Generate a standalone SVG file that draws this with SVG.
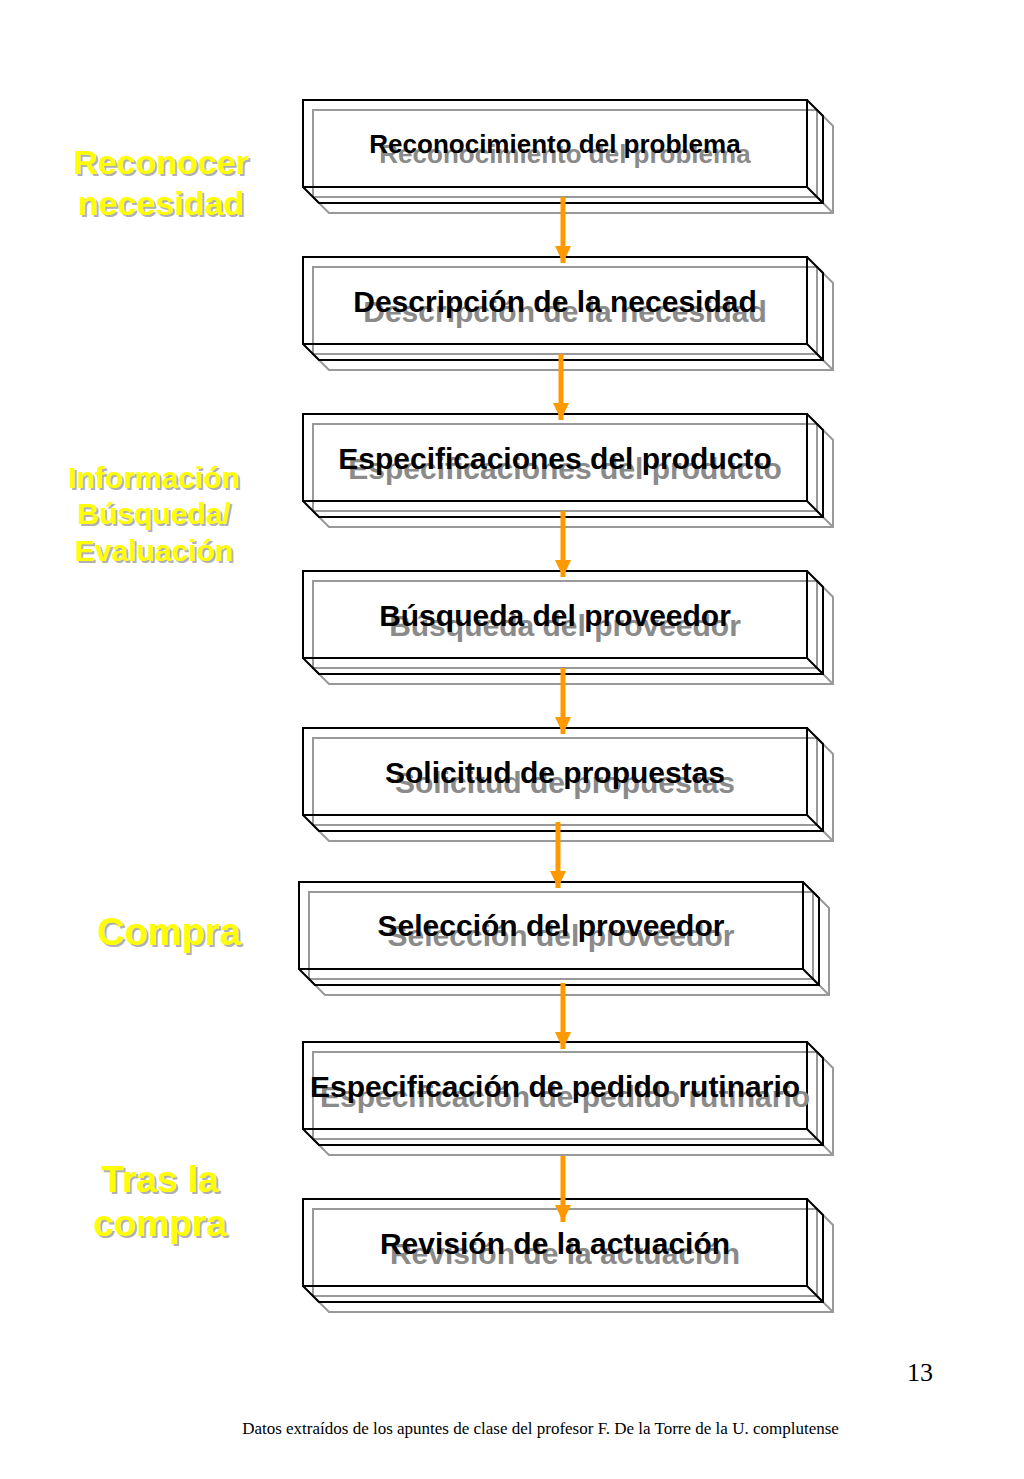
<svg xmlns="http://www.w3.org/2000/svg" width="1024" height="1479" viewBox="0 0 1024 1479">
<defs>
<style>
.blk{fill:none;stroke:#000;stroke-width:2;stroke-linejoin:miter}
.gry{fill:none;stroke:#999;stroke-width:2}
.t{font-family:"Liberation Sans",Arial,sans-serif;font-weight:bold;font-size:30px;text-anchor:middle}
.t.s26{font-size:26px}
.tb{fill:#000}
.ts{fill:#8a8a8a}
.lab{font-family:"Liberation Sans",Arial,sans-serif;font-weight:bold;text-anchor:middle}
.ly{fill:#FFFF00}
.lg{fill:#b0b0b0}
.arr{stroke:#FF9900;stroke-width:5;fill:none}
</style>
<g id="box">
<path class="gry" d="M10,10 h504 v87 h-504 z M514,10 l16,16 v87 h-504 l-16,-16 M514,97 l16,16"/>
<path class="blk" d="M0,0 h504 v87 h-504 z M504,0 l16,16 v87 h-504 l-16,-16 M504,87 l16,16"/>
</g>
<marker id="ah" markerWidth="17" markerHeight="16" refX="17" refY="8" orient="auto" markerUnits="userSpaceOnUse">
<path d="M0,0 L17,8 L0,16 z" fill="#FF9900"/>
</marker>
</defs>
<rect width="1024" height="1479" fill="#fff"/>

<g id="labels">
<g class="lab" font-size="34">
<text class="lg" x="163" y="176">Reconocer</text>
<text class="ly" x="161" y="174">Reconocer</text>
<text class="lg" x="163" y="217">necesidad</text>
<text class="ly" x="161" y="215">necesidad</text>
</g>
<g class="lab" font-size="30">
<text class="lg" x="156" y="490">Información</text>
<text class="ly" x="154" y="488">Información</text>
<text class="lg" x="156" y="526">Búsqueda/</text>
<text class="ly" x="154" y="524">Búsqueda/</text>
<text class="lg" x="156" y="563">Evaluación</text>
<text class="ly" x="154" y="561">Evaluación</text>
</g>
<g class="lab" font-size="38">
<text class="lg" x="171" y="947">Compra</text>
<text class="ly" x="169" y="945">Compra</text>
</g>
<g class="lab" font-size="37">
<text class="lg" x="162" y="1194">Tras la</text>
<text class="ly" x="160" y="1192">Tras la</text>
<text class="lg" x="162" y="1238">compra</text>
<text class="ly" x="160" y="1236">compra</text>
</g>
</g>

<g id="n1"><use href="#box" x="303" y="100"/>
<text class="t s26 ts" x="565" y="163">Reconocimiento del problema</text>
<text class="t s26 tb" x="555" y="153">Reconocimiento del problema</text></g>
<g id="n2"><use href="#box" x="303" y="257"/>
<text class="t ts" x="565" y="322">Descripción de la necesidad</text>
<text class="t tb" x="555" y="312">Descripción de la necesidad</text></g>
<g id="n3"><use href="#box" x="303" y="414"/>
<text class="t ts" x="565" y="479">Especificaciones del producto</text>
<text class="t tb" x="555" y="469">Especificaciones del producto</text></g>
<g id="n4"><use href="#box" x="303" y="571"/>
<text class="t ts" x="565" y="636">Búsqueda del proveedor</text>
<text class="t tb" x="555" y="626">Búsqueda del proveedor</text></g>
<g id="n5"><use href="#box" x="303" y="728"/>
<text class="t ts" x="565" y="793">Solicitud de propuestas</text>
<text class="t tb" x="555" y="783">Solicitud de propuestas</text></g>
<g id="n6"><use href="#box" x="299" y="882"/>
<text class="t ts" x="561" y="946">Selección del proveedor</text>
<text class="t tb" x="551" y="936">Selección del proveedor</text></g>
<g id="n7"><use href="#box" x="303" y="1042"/>
<text class="t ts" x="565" y="1107">Especificación de pedido rutinario</text>
<text class="t tb" x="555" y="1097">Especificación de pedido rutinario</text></g>
<g id="n8"><use href="#box" x="303" y="1199"/>
<text class="t ts" x="565" y="1264">Revisión de la actuación</text>
<text class="t tb" x="555" y="1254">Revisión de la actuación</text></g>

<g id="connectors">
<line class="arr" x1="563" y1="197" x2="563" y2="263" marker-end="url(#ah)"/>
<line class="arr" x1="561" y1="354" x2="561" y2="420" marker-end="url(#ah)"/>
<line class="arr" x1="563" y1="511" x2="563" y2="577" marker-end="url(#ah)"/>
<line class="arr" x1="563" y1="668" x2="563" y2="734" marker-end="url(#ah)"/>
<line class="arr" x1="558" y1="822" x2="558" y2="888" marker-end="url(#ah)"/>
<line class="arr" x1="563" y1="983" x2="563" y2="1049" marker-end="url(#ah)"/>
<line class="arr" x1="563" y1="1156" x2="563" y2="1222" marker-end="url(#ah)"/>
</g>

<text x="933" y="1381" font-family="'Liberation Serif','Times New Roman',serif" font-size="26" text-anchor="end">13</text>
<text x="540.5" y="1434" font-family="'Liberation Serif','Times New Roman',serif" font-size="17" text-anchor="middle">Datos extraídos de los apuntes de clase del profesor F. De la Torre de la U. complutense</text>
</svg>
